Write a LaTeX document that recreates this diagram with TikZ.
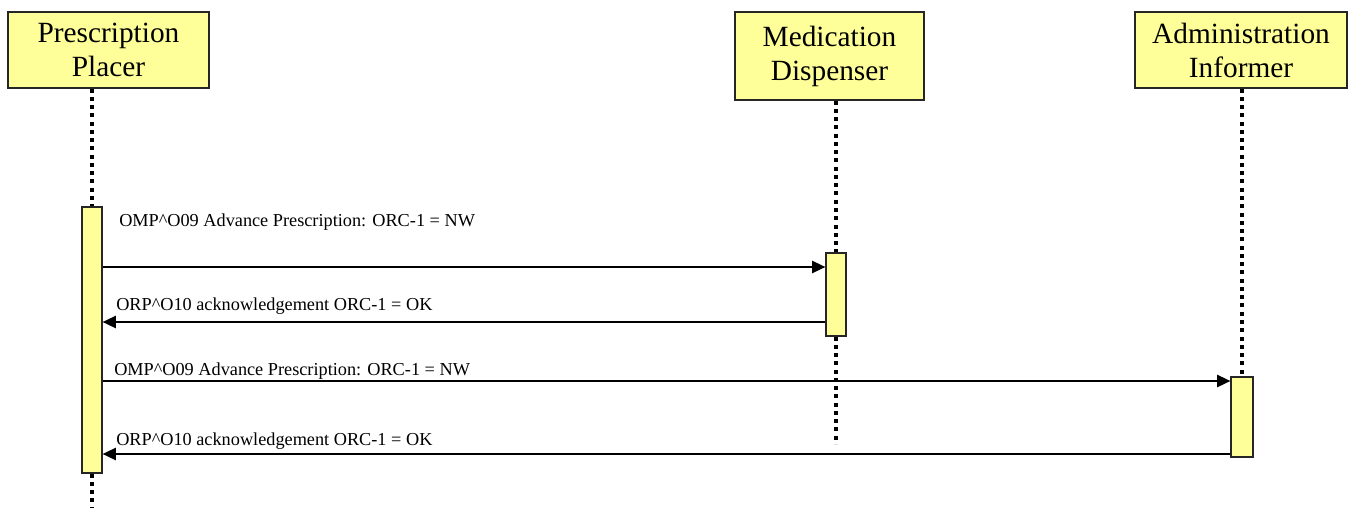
\documentclass[tikz,border=0pt]{standalone}
\usepackage{fontspec}
\setmainfont{Liberation Serif}
\usetikzlibrary{arrows.meta,calc}
\definecolor{boxyellow}{RGB}{255,255,153}
\tikzstyle{actor}=[draw=black!85,fill=boxyellow,line width=0.8pt,align=center,inner sep=0pt,font=\fontsize{22}{25.5}\selectfont]
\tikzstyle{activation}=[draw=black!85,fill=boxyellow,line width=0.8pt,minimum width=15pt,inner sep=0pt]
\tikzstyle{lifeline}=[draw,line width=3pt,dash pattern=on 3pt off 3.2pt]
\tikzstyle{msg}=[draw,line width=1.8pt,-{Triangle[length=10pt,width=9pt]}]
\tikzstyle{msglabel}=[anchor=west,inner sep=0pt,font=\fontsize{13.7}{16}\selectfont]

\begin{document}
\begin{tikzpicture}[x=0.75pt,y=-0.75pt]
    \useasboundingbox (0,0) rectangle (1353,508);

    % First we draw the participants
    \node[actor,minimum width=150.75pt,minimum height=57pt] (placer) at (108.5,50) {Prescription\\Placer};
    \node[actor,minimum width=141.75pt,minimum height=66pt] (disp) at (829.5,56) {Medication\\Dispenser};
    \node[actor,minimum width=159pt,minimum height=57pt] (admin) at (1241,50) {Administration\\Informer};

    % Activation bars
    \node[activation,minimum height=199.5pt] (actP) at (92,340) {};
    \node[activation,minimum height=62.25pt] (actD) at (836,294.5) {};
    \node[activation,minimum width=16.5pt,minimum height=60pt] (actA) at (1242,417) {};

    % Lifelines
    \coordinate (placerEnd) at (92,508);
    \coordinate (dispEnd) at (836,444);
    \path[lifeline] (placer.south -| actP) -- (actP.north);
    \path[lifeline] (actP.south) -- (placerEnd);
    \path[lifeline] (disp.south -| actD) -- (actD.north);
    \path[lifeline] (actD.south) -- (dispEnd);
    \path[lifeline] (admin.south -| actA) -- (actA.north);

    % Messages and their labels
    \foreach \row/\ypos in {row1/267,row2/322,row3/381,row4/454}
        \coordinate (\row) at (0,\ypos);

    \path[msg] (actP.east |- row1) -- (actD.west |- row1);
    \path[msg] (actD.west |- row2) -- (actP.east |- row2);
    \path[msg] (actP.east |- row3) -- (actA.west |- row3);
    \path[msg] (actA.west |- row4) -- (actP.east |- row4);

    \node[msglabel] (lbl1) at (119,222) {OMP\textasciicircum{}O09 Advance Prescription: ORC-1 = NW};
    \node[msglabel] (lbl2) at (116,306) {ORP\textasciicircum{}O10 acknowledgement ORC-1 = OK};
    \node[msglabel] (lbl3) at (114,371) {OMP\textasciicircum{}O09 Advance Prescription: ORC-1 = NW};
    \node[msglabel] (lbl4) at (116,441) {ORP\textasciicircum{}O10 acknowledgement ORC-1 = OK};
\end{tikzpicture}
\end{document}
